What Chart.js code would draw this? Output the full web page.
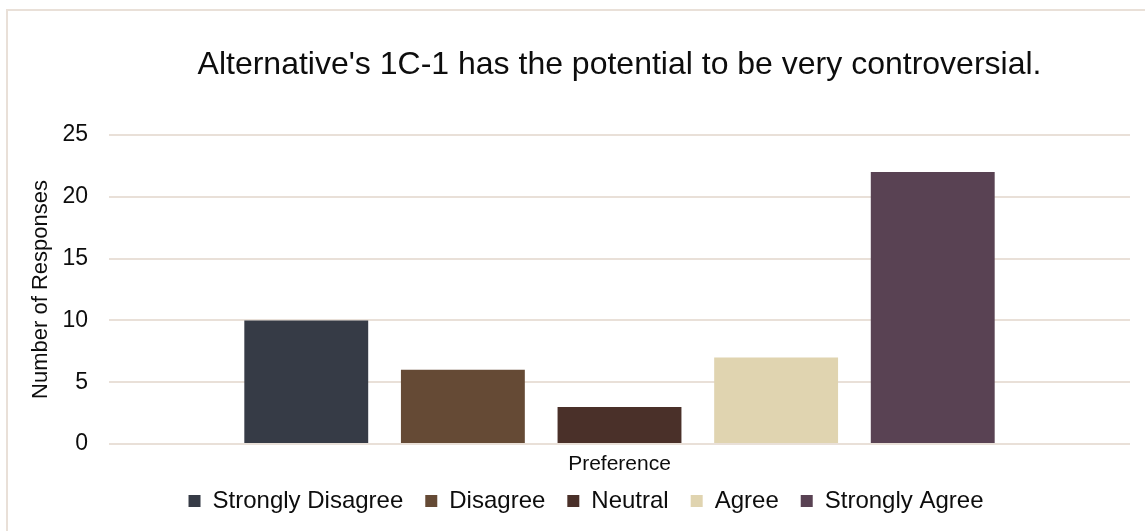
<!DOCTYPE html>
<html>
<head>
<meta charset="utf-8">
<script src="https://cdn.jsdelivr.net/npm/chart.js@4/dist/chart.umd.min.js"></script>
<style>
html,body{margin:0;padding:0;background:#fff;}
#wrap{position:relative;width:1145px;height:531px;}
</style>
</head>
<body>
<div id="wrap"><canvas id="c" width="1145" height="531"></canvas></div>
<script>
const categories = [''];
const seriesNames = ['Strongly Disagree', 'Disagree', 'Neutral', 'Agree', 'Strongly Agree'];
const seriesValues = [10, 6, 3, 7, 22];
const seriesColors = ['#363b46', '#654a35', '#4a3029', '#e0d4b0', '#594253'];
const yTicks = [0, 5, 10, 15, 20, 25];

const FONT = 'Arial, "Liberation Sans", sans-serif';
const TXT = '#0d0d0d';

const borderPlugin = {
  id: 'outerBorder',
  afterLayout(chart) {
    const lg = chart.legend;
    if (lg) { lg.left += 7; lg.right += 7; lg.top -= 10; lg.bottom -= 10; }
  },
  beforeDraw(chart) {
    const ctx = chart.ctx;
    ctx.save();
    ctx.fillStyle = '#ffffff';
    ctx.fillRect(0, 0, chart.width, chart.height);
    ctx.strokeStyle = '#e9e0d8';
    ctx.lineWidth = 2;
    ctx.beginPath();
    ctx.moveTo(7, 531);
    ctx.lineTo(7, 10);
    ctx.lineTo(1145, 10);
    ctx.stroke();
    ctx.restore();
  }
};

new Chart(document.getElementById('c'), {
  type: 'bar',
  data: {
    labels: categories,
    datasets: seriesNames.map((n, i) => ({
      label: n,
      data: [seriesValues[i]],
      backgroundColor: seriesColors[i],
      borderWidth: 0
    }))
  },
  options: {
    responsive: false,
    animation: false,
    devicePixelRatio: 1,
    categoryPercentage: 0.767,
    barPercentage: 0.791,
    layout: { padding: { left: 28, right: 15, top: 46, bottom: 8 } },
    plugins: {
      title: {
        display: true,
        fullSize: false,
        text: "Alternative's 1C-1 has the potential to be very controversial.",
        font: { family: FONT, size: 32, weight: 'normal' },
        color: TXT,
        padding: { top: 0, bottom: 50.6 }
      },
      legend: {
        position: 'bottom',
        maxHeight: 46,
        labels: {
          font: { family: FONT, size: 24 },
          color: TXT,
          boxWidth: 12,
          boxHeight: 12,
          padding: 22
        }
      },
      tooltip: { enabled: false }
    },
    scales: {
      x: {
        afterFit(s) { s.height = 33; },
        grid: { display: false, drawTicks: false },
        border: { display: false },
        ticks: { display: false },
        title: {
          display: true,
          text: 'Preference',
          font: { family: FONT, size: 21 },
          color: TXT,
          padding: { top: 8, bottom: 0 }
        }
      },
      y: {
        min: 0,
        max: 25,
        afterBuildTicks(s) { s.ticks = yTicks.map(v => ({ value: v })); },
        afterFit(s) { s.width = 81; },
        grid: { color: '#e9e0d8', lineWidth: 2, drawTicks: false },
        border: { display: false },
        ticks: {
          font: { family: FONT, size: 23 },
          color: TXT,
          padding: 21
        },
        title: {
          display: true,
          text: 'Number of Responses',
          font: { family: FONT, size: 22 },
          color: TXT,
          padding: { top: 0, bottom: 4 }
        }
      }
    }
  },
  plugins: [borderPlugin]
});
</script>
</body>
</html>
